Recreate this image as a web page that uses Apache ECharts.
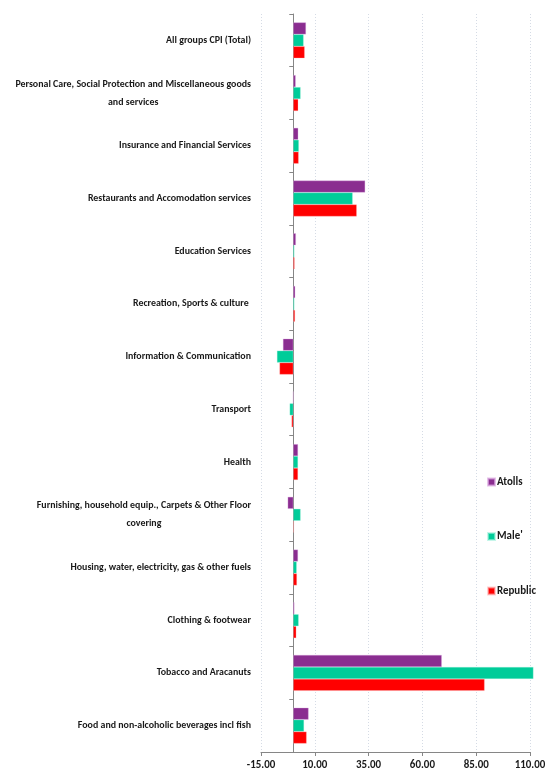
<!DOCTYPE html>
<html><head><meta charset="utf-8">
<script src="https://cdn.jsdelivr.net/npm/echarts@6/dist/echarts.min.js"></script>
<style>html,body{margin:0;padding:0;background:#fff}#c{width:545px;height:778px}</style>
</head><body><div id="c"></div>
<script>
const categories = [
  "Food and non-alcoholic beverages incl fish",
  "Tobacco and Aracanuts",
  "Clothing & footwear",
  "Housing, water, electricity, gas & other fuels",
  "Furnishing, household equip., Carpets & Other Floor\ncovering",
  "Health",
  "Transport",
  "Information & Communication",
  "Recreation, Sports & culture ",
  "Education Services",
  "Restaurants and Accomodation services",
  "Insurance and Financial Services",
  "Personal Care, Social Protection and Miscellaneous goods\nand services",
  "All groups CPI (Total)"
];
const seriesNames = ['Atolls', "Male'", 'Republic'];
const atolls   = [7.1, 69.0, 0.5, 2.2, -2.6, 2.2, 0.0, -4.8, 0.9, 1.2, 33.4, 2.3, 1.1, 5.9];
const male     = [5.0, 111.6, 2.5, 1.6, 3.4, 2.2, -1.7, -7.6, 0.5, 0.5, 27.6, 2.6, 3.4, 4.8];
const republic = [6.2, 88.9, 1.4, 1.7, 0.3, 2.2, -0.8, -6.4, 0.8, 0.6, 29.5, 2.5, 2.3, 5.3];
const xTicks = { min: -15, max: 110, interval: 25 };

// choose the narrowest available font (Calibri-like look)
function hasFont(f) {
  const c = document.createElement('canvas').getContext('2d');
  const t = 'mmmmllliiiWWW All groups 0123';
  for (const base of ['monospace', 'serif']) {
    c.font = 'bold 40px ' + base; const a = c.measureText(t).width;
    c.font = 'bold 40px "' + f + '", ' + base; const b = c.measureText(t).width;
    if (Math.abs(a - b) > 0.5) return true;
  }
  return false;
}
const candidates = ['Carlito', 'Calibri', 'Liberation Sans Narrow', 'Arial Narrow', 'Roboto Condensed', 'DejaVu Sans Condensed', 'Liberation Sans'];
let fam = 'sans-serif';
for (const f of candidates) { if (hasFont(f)) { fam = '"' + f + '"'; break; } }
const font = fam + ', sans-serif';
function widthAt(txt, size) {
  const c = document.createElement('canvas').getContext('2d');
  c.font = 'bold ' + size + 'px ' + font; return c.measureText(txt).width;
}
const longest = "Personal Care, Social Protection and Miscellaneous goods";
const catSize = Math.min(11.5, 100 * 236 / widthAt(longest, 100));
const tickSize = Math.min(11.5, Math.max(catSize, 100 * 29 / widthAt('110.00', 100)) + 0.6);
const txtColor = '#1a1a1a';

const chart = echarts.init(document.getElementById('c'));
const barCommon = { type: 'bar', barGap: '0%', barCategoryGap: '32%', clip: false };
chart.setOption({
  animation: false,
  grid: { left: 261, right: 15, top: 14, bottom: 26, containLabel: false, outerBoundsMode: 'none' },
  legend: {
    orient: 'vertical', left: 487, top: 475, itemGap: 40.5, padding: 0,
    itemWidth: 7, itemHeight: 7, icon: 'rect',
    data: seriesNames,
    textStyle: { fontFamily: font, fontWeight: 'bold', fontSize: tickSize, lineHeight: 14, color: txtColor, padding: [0, 0, 0, -3] }
  },
  xAxis: {
    type: 'value', min: xTicks.min, max: xTicks.max, interval: xTicks.interval,
    axisLine: { show: true, lineStyle: { color: '#868686' } },
    axisTick: { show: true, length: 4, lineStyle: { color: '#868686' } },
    axisLabel: { formatter: v => v.toFixed(2), fontFamily: font, fontWeight: 'bold', fontSize: tickSize, color: txtColor, margin: 8 },
    splitLine: { show: true, lineStyle: { color: '#d5dbe5', type: [1, 2] } }
  },
  yAxis: [
    {
      type: 'category', data: categories,
      axisLine: { show: false, onZero: false },
      axisTick: { show: false },
      axisLabel: {
        margin: 10, fontFamily: font, fontWeight: 'bold', fontSize: catSize, color: txtColor, lineHeight: 18,
        formatter: v => v.split('\n').map(s => '{c|' + s + '}').join('\n'),
        rich: { c: { align: 'center', fontFamily: font, fontWeight: 'bold', fontSize: catSize, color: txtColor, lineHeight: 18 } }
      }
    },
    {
      type: 'category', data: categories, position: 'right',
      axisLine: { show: true, onZero: true, lineStyle: { color: '#868686' } },
      axisTick: { show: true, inside: true, length: 4, lineStyle: { color: '#868686' } },
      axisLabel: { show: false }
    }
  ],
  series: [
    Object.assign({ name: seriesNames[0], data: atolls,
      itemStyle: { color: '#8a2d90', borderColor: 'rgba(220,170,225,0.7)', borderWidth: 0.5 } }, barCommon),
    Object.assign({ name: seriesNames[1], data: male,
      itemStyle: { color: '#00cc99', borderColor: 'rgba(160,240,220,0.6)', borderWidth: 0.5 } }, barCommon),
    Object.assign({ name: seriesNames[2], data: republic,
      itemStyle: { color: '#ff0000', borderColor: 'rgba(255,180,180,0.6)', borderWidth: 0.5 } }, barCommon)
  ]
});
</script></body></html>
